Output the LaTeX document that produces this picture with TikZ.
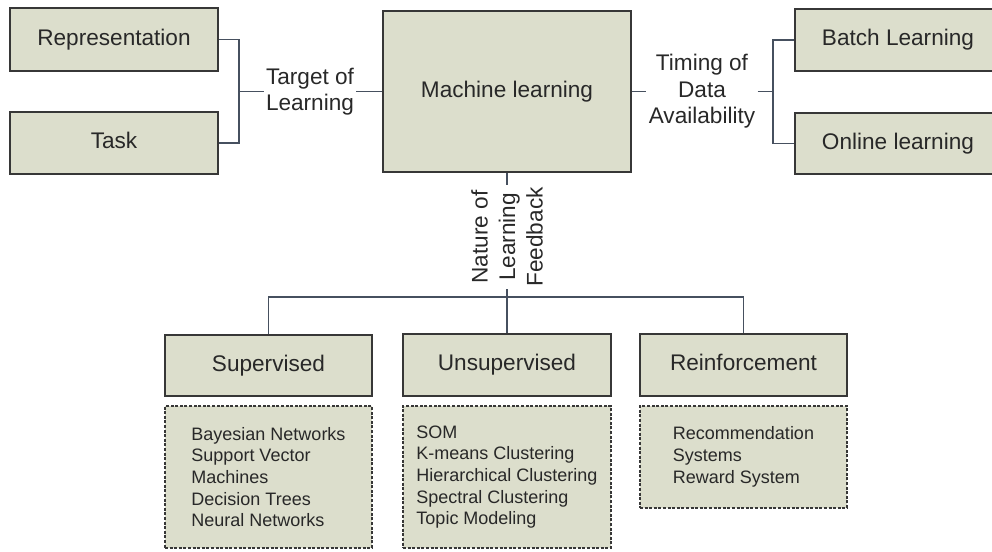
\documentclass[tikz,border=0pt]{standalone}
\usepackage{fontspec}
\setmainfont{Liberation Sans}

\definecolor{boxfill}{RGB}{220,222,204}
\definecolor{boxline}{RGB}{55,55,55}
\definecolor{linkline}{RGB}{70,80,95}
\definecolor{txt}{RGB}{40,40,40}

\tikzset{
  box/.style={draw=boxline, line width=1.1pt, fill=boxfill, text=txt, inner sep=0pt,
    text height=8.2pt, text depth=2.4pt, font=\fontsize{11.3}{13.2}\selectfont},
  listbox/.style={draw=boxline, line width=0.8pt, dash pattern=on 1.5pt off 0.8pt,
    fill=boxfill, text=txt, align=left, inner sep=0pt, font=\fontsize{9}{10.85}\selectfont},
  link/.style={draw=linkline, line width=0.75pt},
  tag/.style={text=txt, align=center, inner sep=1pt}
}

\begin{document}
\begin{tikzpicture}[x=0.5pt, y=-0.5pt]
\useasboundingbox (0,0) rectangle (992,552);

% Top row of boxes
\node[box, minimum width=104pt, minimum height=31.5pt] (rep) at (114,39.5) {Representation};
\node[box, minimum width=104pt, minimum height=31pt] (task) at (114,143) {Task};
\node[box, minimum width=124pt, minimum height=80.5pt] (ml) at (507,91.5) {Machine learning};
\node[box, minimum width=103pt, minimum height=31pt] (batch) at (898,40) {Batch Learning};
\node[box, minimum width=103pt, minimum height=30.5pt] (online) at (898,143.5) {Online learning};

% Kinds of learning and their methods
\node[box, minimum width=103.5pt, minimum height=30.5pt] (sup) at (268.5,365.5) {Supervised};
\node[box, minimum width=104pt, minimum height=31pt] (unsup) at (507,365) {Unsupervised};
\node[box, minimum width=103.5pt, minimum height=31pt] (reinf) at (743.5,365) {Reinforcement};
\node[listbox, minimum width=103.5pt, minimum height=71pt] (suplist) at (268.5,477)
  {Bayesian Networks\\Support Vector\\Machines\\Decision Trees\\Neural Networks};
\node[listbox, minimum width=104pt, minimum height=71pt] (unsuplist) at (507,477)
  {SOM\\K-means Clustering\\Hierarchical Clustering\\Spectral Clustering\\Topic Modeling};
\node[listbox, minimum width=103.5pt, minimum height=51pt] (reinflist) at (743.5,457)
  {Recommendation\\Systems\\Reward System};

% Labels on the connectors
\node[tag, font=\fontsize{11.3}{13}\selectfont] (tgt) at (310,91.5) {Target of\\Learning};
\node[tag, font=\fontsize{11.3}{13.25}\selectfont] (tim) at (702,91.5) {Timing of\\Data\\Availability};
\node[tag, rotate=90, font=\fontsize{11.3}{13.75}\selectfont] (nat) at (507,237) {Nature of\\Learning\\Feedback};

\coordinate (jl) at (239,91.5);
\coordinate (jr) at (773,91.5);
\coordinate (jb) at (507,297);

% Connectors
\draw[link] (rep.east) -| (jl) |- (task.east);
\draw[link] (jl) -- (tgt.west);
\draw[link] (tgt.east) -- (ml.west);
\draw[link] (ml.east) -- (tim.west);
\draw[link] (tim.east) -- (jr);
\draw[link] (batch.west) -| (jr) |- (online.west);
\draw[link] (ml.south) -- (nat.east);
\draw[link] (nat.west) -- (jb);
\draw[link] (sup.north) |- (jb) -| (reinf.north);
\draw[link] (jb) -- (unsup.north);
\end{tikzpicture}
\end{document}
